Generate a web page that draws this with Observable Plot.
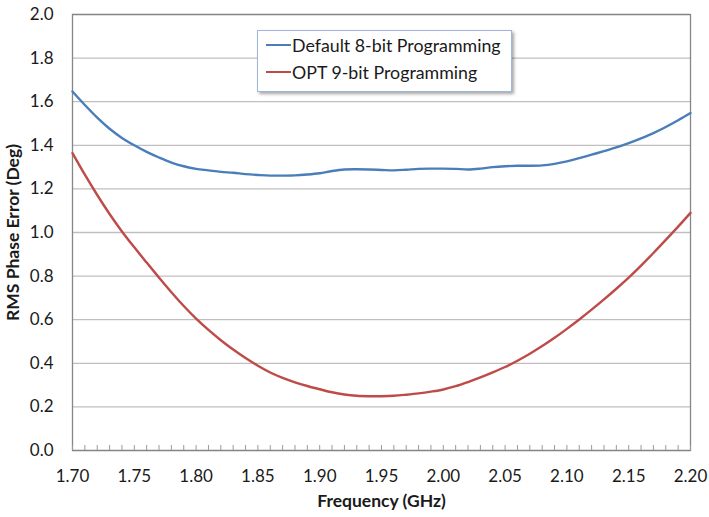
<!DOCTYPE html>
<html>
<head>
<meta charset="utf-8">
<script src="https://cdn.jsdelivr.net/npm/d3@7"></script>
<script src="https://cdn.jsdelivr.net/npm/@observablehq/plot@0.6"></script>
<style>
  body { margin: 0; background: #fff; }
  #wrap { position: relative; width: 709px; height: 517px; font-family: Lato, "Open Sans", sans-serif; }
  #legend { position: absolute; left: 257px; top: 30px; width: 253px; height: 60px; background: #fff;
    border: 1px solid #9fb6d8; box-shadow: 2px 2px 3px rgba(0,0,0,0.35); font-size: 17.8px; color: #1a1a1a; }
  .row { position: absolute; left: 8px; display: flex; align-items: center; height: 20px; white-space: nowrap; }
  .sw { width: 25px; height: 2px; margin-right: 1px; }
</style>
</head>
<body>
<div id="wrap">
  <div id="chart"></div>
  <div id="legend"></div>
</div>
<script>
const frequency = [1.70,1.71,1.72,1.73,1.74,1.75,1.76,1.77,1.78,1.79,1.80,1.81,1.82,1.83,1.84,1.85,1.86,1.87,1.88,1.89,1.90,1.91,1.92,1.93,1.94,1.95,1.96,1.97,1.98,1.99,2.00,2.01,2.02,2.03,2.04,2.05,2.06,2.07,2.08,2.09,2.10,2.11,2.12,2.13,2.14,2.15,2.16,2.17,2.18,2.19,2.20];
const default8bit = [1.647,1.585,1.527,1.476,1.434,1.400,1.370,1.344,1.321,1.304,1.292,1.285,1.278,1.274,1.268,1.264,1.261,1.261,1.262,1.266,1.272,1.282,1.289,1.290,1.289,1.287,1.285,1.288,1.292,1.293,1.293,1.292,1.289,1.293,1.300,1.304,1.306,1.306,1.308,1.315,1.326,1.341,1.357,1.373,1.390,1.410,1.432,1.456,1.484,1.515,1.548];
const opt9bit = [1.364,1.265,1.172,1.085,1.005,0.932,0.862,0.793,0.726,0.663,0.605,0.553,0.506,0.463,0.424,0.389,0.358,0.333,0.313,0.296,0.281,0.267,0.257,0.251,0.249,0.249,0.251,0.256,0.262,0.270,0.280,0.295,0.314,0.335,0.358,0.383,0.412,0.444,0.479,0.517,0.558,0.601,0.646,0.693,0.742,0.793,0.848,0.906,0.966,1.027,1.090];
const seriesNames = ["Default 8-bit Programming", "OPT 9-bit Programming"];
const seriesColors = ["#4a7ebb", "#be4b48"];
const xTicks = [1.70,1.75,1.80,1.85,1.90,1.95,2.00,2.05,2.10,2.15,2.20];
const xMinorTicks = d3.range(0, 51).map(i => +(1.70 + i * 0.01).toFixed(2));
const yTicks = [0.0,0.2,0.4,0.6,0.8,1.0,1.2,1.4,1.6,1.8,2.0];
const xTitle = "Frequency (GHz)";
const yTitle = "RMS Phase Error (Deg)";

const rows = [];
seriesNames.forEach((name, s) => {
  const vals = s === 0 ? default8bit : opt9bit;
  frequency.forEach((f, i) => rows.push({series: name, f, v: vals[i]}));
});

const chart = Plot.plot({
  width: 709,
  height: 517,
  marginLeft: 72,
  marginRight: 19,
  marginTop: 14,
  marginBottom: 67,
  style: {fontFamily: "Lato, 'Open Sans', sans-serif", fontSize: "17px", color: "#1a1a1a", background: "#fff"},
  x: {domain: [1.70, 2.20]},
  y: {domain: [0, 2.0]},
  color: {domain: seriesNames, range: seriesColors},
  marks: [
    Plot.gridY(yTicks, {stroke: "#bfbfbf", strokeOpacity: 1, strokeWidth: 1.3}),
    Plot.frame({stroke: "#868686", strokeWidth: 1.3}),
    Plot.axisX(xMinorTicks, {tickSize: -5, tickFormat: () => "", stroke: "#9a9a9a", label: null}),
    Plot.axisX(xTicks, {tickSize: 0, tickPadding: 19, tickFormat: d3.format(".2f"), label: null}),
    Plot.axisY(yTicks, {tickSize: 0, tickPadding: 19, tickFormat: d3.format(".1f"), label: null}),
    Plot.line(rows, {x: "f", y: "v", z: "series", stroke: "series", strokeWidth: 2.4, curve: "catmull-rom"}),
    Plot.text([xTitle], {frameAnchor: "bottom", lineAnchor: "middle", textAnchor: "middle", dy: 51, fontWeight: "bold", fontSize: 17.5}),
    Plot.text([yTitle], {frameAnchor: "left", lineAnchor: "middle", textAnchor: "middle", dx: -59, rotate: -90, fontWeight: "bold", fontSize: 17.5})
  ]
});
document.getElementById("chart").appendChild(chart);

const legend = document.getElementById("legend");
seriesNames.forEach((name, i) => {
  const r = document.createElement("div");
  r.className = "row";
  r.style.top = (4 + i * 27) + "px";
  r.innerHTML = `<span class="sw" style="background:${seriesColors[i]}"></span><span>${name}</span>`;
  legend.appendChild(r);
});
</script>
</body>
</html>
